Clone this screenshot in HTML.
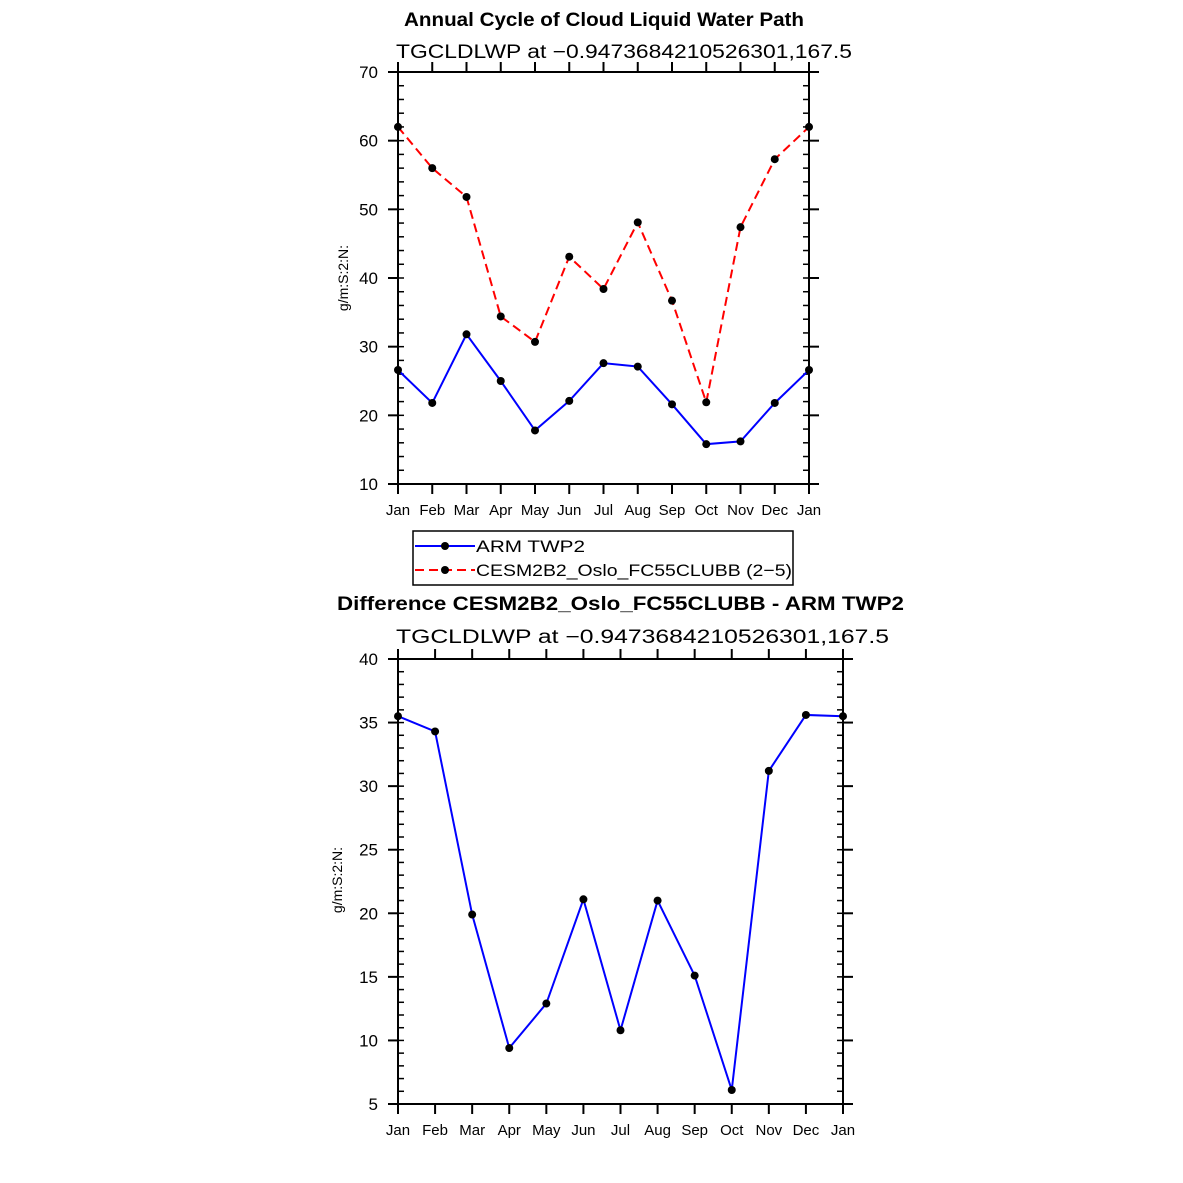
<!DOCTYPE html>
<html><head><meta charset="utf-8"><style>
html,body{margin:0;padding:0;background:#fff;}
svg{display:block;font-family:"Liberation Sans",sans-serif;}
</style></head><body>
<svg id="c" width="1183" height="1183" viewBox="0 0 1183 1183"></svg>
<script>
const months = ["Jan","Feb","Mar","Apr","May","Jun","Jul","Aug","Sep","Oct","Nov","Dec","Jan"];
const armValues = [26.6,21.8,31.8,25.0,17.8,22.1,27.6,27.1,21.6,15.8,16.2,21.8,26.6];
const cesmValues = [62.0,56.0,51.8,34.4,30.7,43.1,38.4,48.1,36.7,21.9,47.4,57.3,62.0];
const diffValues = [35.5,34.3,19.9,9.4,12.9,21.1,10.8,21.0,15.1,6.1,31.2,35.6,35.5];
const topTicks = [10,20,30,40,50,60,70];
const botTicks = [5,10,15,20,25,30,35,40];

const svg = document.getElementById('c');
const NS = 'http://www.w3.org/2000/svg';
function el(tag, attrs, parent){
  const e = document.createElementNS(NS, tag);
  for (const k in attrs) e.setAttribute(k, attrs[k]);
  (parent||svg).appendChild(e);
  return e;
}
function txt(x,y,s,size,anchor,weight,parent){
  const t = el('text',{x:x,y:y,'font-size':size,'text-anchor':anchor||'middle','font-weight':weight||'normal',fill:'#000'},parent);
  t.textContent = s;
  return t;
}
function stretched(x1,x2,y,s,size,weight){
  const t = el('text',{x:x1,y:y,'font-size':size,'text-anchor':'start','font-weight':weight||'normal',fill:'#000',textLength:x2-x1,lengthAdjust:'spacingAndGlyphs'});
  t.textContent = s;
  return t;
}

function panel(name, x0, x1, y0, y1, ymin, ymax, ticks, minorStep, series){
  const g = el('g',{});
  
  
  const xs = i => x0 + (x1-x0)*i/(months.length-1);
  const ys = v => y1 - (y1-y0)*(v-ymin)/(ymax-ymin);
  el('rect',{x:x0,y:y0,width:x1-x0,height:y1-y0,fill:'none',stroke:'#000','stroke-width':2},g);
  months.forEach((m,i)=>{
    const x = xs(i);
    el('line',{x1:x,x2:x,y1:y1,y2:y1+10,stroke:'#000','stroke-width':2},g);
    el('line',{x1:x,x2:x,y1:y0,y2:y0-10,stroke:'#000','stroke-width':2},g);
    const t = txt(x,y1+31,m,15,'middle','normal',g);
    
    
  });
  ticks.forEach(v=>{
    const y = ys(v);
    el('line',{x1:x0-10,x2:x0,y1:y,y2:y,stroke:'#000','stroke-width':2},g);
    el('line',{x1:x1,x2:x1+10,y1:y,y2:y,stroke:'#000','stroke-width':2},g);
    const t = txt(x0-20,y+6,String(v),17,'end','normal',g);
    
    
  });
  for (let v=ymin; v<=ymax+1e-9; v+=minorStep){
    const y = ys(v);
    el('line',{x1:x0,x2:x0+6,y1:y,y2:y,stroke:'#000','stroke-width':1.5},g);
    el('line',{x1:x1-6,x2:x1,y1:y,y2:y,stroke:'#000','stroke-width':1.5},g);
  }
  series.forEach(s=>{
    const pts = s.values.map((v,i)=>xs(i)+','+ys(v)).join(' ');
    const pl = el('polyline',{points:pts,fill:'none',stroke:s.color,'stroke-width':2,'stroke-dasharray':s.dash||'none'},g);
    
    
    s.values.forEach((v,i)=>{
      const c = el('circle',{cx:xs(i),cy:ys(v),r:4,fill:'#000'},g);
      
      
    });
  });
  return g;
}

let t;
t = stretched(404,804,26,'Annual Cycle of Cloud Liquid Water Path',19,'bold');
 
t = stretched(396,852,58,'TGCLDLWP at \u22120.9473684210526301,167.5',19);
 
panel('top-panel',398,809,72,484,10,70,topTicks,2,[
  {name:'arm',values:armValues,color:'#0000ff'},
  {name:'cesm',values:cesmValues,color:'#ff0000',dash:'9,5'}
]);
t = el('text',{x:348,y:278,'font-size':14,'text-anchor':'middle',transform:'rotate(-90 348 278)'});
t.textContent='g/m:S:2:N:';
 

const lg = el('g',{});
 
el('rect',{x:413,y:531,width:380,height:54,fill:'#fff',stroke:'#000','stroke-width':1.5},lg);
el('line',{x1:415,x2:475,y1:546,y2:546,stroke:'#0000ff','stroke-width':2},lg);
el('circle',{cx:445,cy:546,r:4,fill:'#000'},lg);
t = stretched(476,585,552,'ARM TWP2',17);
lg.appendChild(t);
el('line',{x1:415,x2:475,y1:570,y2:570,stroke:'#ff0000','stroke-width':2,'stroke-dasharray':'9,5'},lg);
el('circle',{cx:445,cy:570,r:4,fill:'#000'},lg);
t = stretched(476,792,576,'CESM2B2_Oslo_FC55CLUBB (2\u22125)',17);
lg.appendChild(t);

t = stretched(337,904,610,'Difference CESM2B2_Oslo_FC55CLUBB - ARM TWP2',19,'bold');
 
t = stretched(396,889,643,'TGCLDLWP at \u22120.9473684210526301,167.5',19);
 
panel('bottom-panel',398,843,659,1104,5,40,botTicks,1,[
  {name:'diff',values:diffValues,color:'#0000ff'}
]);
t = el('text',{x:342,y:880,'font-size':14,'text-anchor':'middle',transform:'rotate(-90 342 880)'});
t.textContent='g/m:S:2:N:';
 
</script>
</body></html>
